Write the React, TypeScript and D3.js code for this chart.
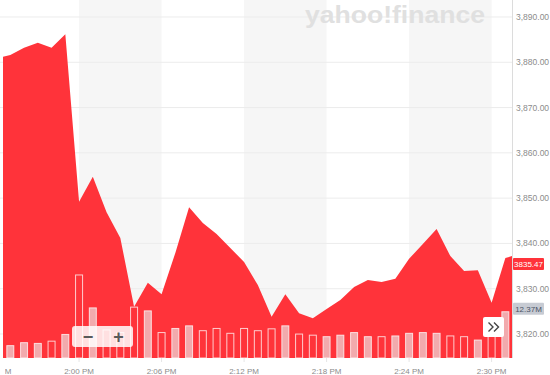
import React from "react";
import * as d3 from "d3";

// ---- data ----
const times = [
  "13:54", "13:55", "13:56", "13:57", "13:58", "13:59",
  "14:00", "14:01", "14:02", "14:03", "14:04", "14:05",
  "14:06", "14:07", "14:08", "14:09", "14:10", "14:11",
  "14:12", "14:13", "14:14", "14:15", "14:16", "14:17",
  "14:18", "14:19", "14:20", "14:21", "14:22", "14:23",
  "14:24", "14:25", "14:26", "14:27", "14:28", "14:29",
  "14:30", "14:31", "14:31:29",
];
const prices = [
  3880.9, 3881.6, 3883.2, 3884.3, 3883.2, 3886.2,
  3849.2, 3854.7, 3846.9, 3841.2, 3826.0, 3831.3,
  3828.8, 3837.9, 3848.0, 3844.5, 3842.1, 3839.0,
  3835.9, 3830.8, 3823.8, 3828.8, 3824.6, 3823.5,
  3825.5, 3827.5, 3830.4, 3831.9, 3831.5, 3832.2,
  3836.6, 3839.9, 3843.2, 3837.2, 3833.9, 3834.1,
  3826.9, 3836.8, 3837.2,
];
// volume in millions, one per whole minute (13:54 .. 14:31)
const volumes = [
  3.0, 3.3, 4.1, 3.9, 4.5, 6.3,
  22.2, 13.4, 7.5, 6.8, 13.6, 12.6,
  6.8, 7.9, 8.6, 7.3, 7.9, 6.6,
  7.9, 7.3, 7.8, 8.6, 6.4, 6.1,
  5.7, 6.1, 6.8, 5.7, 5.7, 5.9,
  6.6, 6.8, 6.6, 5.9, 5.7, 4.8,
  6.1, 12.37,
];
const yTicks = [3820, 3830, 3840, 3850, 3860, 3870, 3880, 3890];
const xTickTimes = ["13:54", "14:00", "14:06", "14:12", "14:18", "14:24", "14:30"];
const bandRanges = [
  ["14:00", "14:06"],
  ["14:12", "14:18"],
  ["14:24", "14:30"],
];
const lastPriceLabel = 3835.47;
const lastVolumeLabel = 12.37;

// ---- layout ----
const W = 550;
const H = 375;
const plotLeft = 3;
const plotRight = 512;
const plotBottom = 358;
const RED = "#ff333a";
const FONT = "'Liberation Sans', Arial, sans-serif";

const parse = d3.timeParse("%H:%M:%S");
const parseT = (s: string) => parse(s.length === 5 ? s + ":00" : s) as Date;

const x = d3
  .scaleTime()
  .domain([parseT("13:54:15"), parseT("14:31:29")])
  .range([0, plotRight]);
const y = d3.scaleLinear().domain([3814.7, 3893.75]).range([plotBottom, 0]);
const v = d3.scaleLinear().domain([0, 40]).range([plotBottom, plotBottom - 149.6]);

const series = times.map((t, i) => ({ t: parseT(t), p: prices[i] }));
const bars = volumes.map((vol, i) => ({
  t: parseT(times[i]),
  vol,
  up: i === 0 ? true : prices[i] >= prices[i - 1],
}));

const areaGen = d3
  .area<{ t: Date; p: number }>()
  .x((d) => x(d.t))
  .y0(plotBottom)
  .y1((d) => y(d.p));

const fmtY = d3.format(",.2f");
const fmtX = d3.timeFormat("%-I:%M %p");

export default function App() {
  const barW = 7;
  const priceY = y(lastPriceLabel);
  const volY = v(lastVolumeLabel) - 3;
  return (
    <svg
      width={W}
      height={H}
      style={{ position: "absolute", left: 0, top: 0, background: "#fff" }}
      fontFamily={FONT}
    >
      <defs>
        <clipPath id="plotClip">
          <rect x={plotLeft} y={0} width={plotRight - plotLeft} height={plotBottom} />
        </clipPath>
        <clipPath id="labelClip">
          <rect x={5} y={plotBottom} width={plotRight} height={H - plotBottom} />
        </clipPath>
      </defs>

      {/* alternating bands */}
      {bandRanges.map(([a, b], i) => (
        <rect
          key={i}
          x={x(parseT(a))}
          y={0}
          width={x(parseT(b)) - x(parseT(a))}
          height={plotBottom}
          fill="#f6f6f6"
        />
      ))}

      {/* grid lines */}
      {yTicks.map((t) => (
        <line key={t} x1={0} x2={plotRight} y1={y(t)} y2={y(t)} stroke="#ececec" strokeWidth={1} />
      ))}

      {/* logo */}
      <text
        x={305}
        y={23}
        fontSize={23}
        fontWeight={900}
        fill="#e0e0e0"
        textLength={180}
        lengthAdjust="spacingAndGlyphs"
      >
        yahoo!finance
      </text>

      <g clipPath="url(#plotClip)">
        <path d={areaGen(series) || ""} fill={RED} />
        {bars.map((b, i) => (
          <rect
            key={i}
            x={x(b.t) - barW / 2}
            y={v(b.vol)}
            width={barW}
            height={plotBottom - v(b.vol)}
            fill={b.up ? "rgba(235,235,235,0.65)" : "none"}
            stroke="rgba(255,255,255,0.75)"
            strokeWidth={1}
          />
        ))}
      </g>

      {/* right axis line */}
      <line x1={plotRight + 0.5} x2={plotRight + 0.5} y1={0} y2={plotBottom} stroke="#dcdcdc" />

      {/* y tick labels */}
      {yTicks.map((t) => (
        <text key={t} x={516} y={y(t)} dy="0.35em" fontSize={8.5} fill="#8c8c8c">
          {fmtY(t)}
        </text>
      ))}

      {/* x tick labels */}
      <g clipPath="url(#labelClip)">
        {xTickTimes.map((t) => {
          const xx = x(parseT(t));
          return (
            <g key={t}>
              <line x1={xx} x2={xx} y1={plotBottom} y2={plotBottom + 4} stroke="#e6e6e6" />
              <text x={xx} y={374} textAnchor="middle" fontSize={8} fill="#8c8c8c">
                {fmtX(parseT(t))}
              </text>
            </g>
          );
        })}
      </g>

      {/* last price label */}
      <rect x={513} y={priceY - 6} width={31} height={12} fill={RED} rx={1} />
      <text x={528.5} y={priceY} dy="0.35em" textAnchor="middle" fontSize={8} fill="#fff">
        {lastPriceLabel.toFixed(2)}
      </text>

      {/* last volume label */}
      <rect x={513} y={volY - 6} width={31} height={12} fill="#c7cbd3" rx={1} />
      <text x={528.5} y={volY} dy="0.35em" textAnchor="middle" fontSize={8} fill="#4a5366">
        {lastVolumeLabel.toFixed(2)}M
      </text>

      {/* zoom buttons */}
      <rect x={72} y={326} width={61} height={21} rx={3} fill="rgba(255,255,255,0.85)" />
      <text x={88} y={337} dy="0.35em" textAnchor="middle" fontSize={18} fontWeight={700} fill="#5a5a5a">
        −
      </text>
      <text x={118.5} y={337} dy="0.35em" textAnchor="middle" fontSize={18} fontWeight={700} fill="#5a5a5a">
        +
      </text>

      {/* scroll button */}
      <rect x={483} y={317} width={21} height={20} rx={2} fill="#fff" />
      <path
        d="M488.5,322.5 L493,327 L488.5,331.5 M494,322.5 L498.5,327 L494,331.5"
        fill="none"
        stroke="#444"
        strokeWidth={1.4}
      />
    </svg>
  );
}
